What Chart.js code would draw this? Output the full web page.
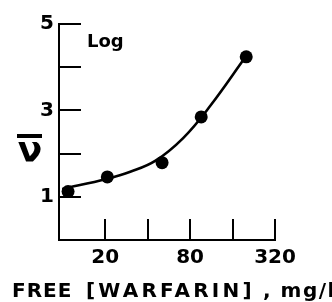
<!DOCTYPE html>
<html><head><meta charset="utf-8">
<script src="https://cdn.jsdelivr.net/npm/chart.js@4"></script>
<style>html,body{margin:0;padding:0;background:#fff}#wrap{width:332px;height:302px}</style>
</head><body><div id="wrap"><canvas id="c" width="332" height="302"></canvas></div>
<script>
// Data
const pointX = [10.9, 20.7, 50.6, 95.9, 200];
const pointY = [1.12, 1.46, 1.79, 2.85, 4.24];
const curveX = [9.9, 20.7, 30.1, 45.2, 71.4, 110.9, 198];
const curveY = [1.18, 1.42, 1.58, 1.83, 2.36, 3.10, 4.24];
const xTicks = [20, 40, 80, 160, 320];
const xLabels = [20, 80, 320];
const yTicks = [1, 2, 3, 4, 5];
const yLabels = [1, 3, 5];
const xTitleParts = ['FREE', '[WARFARIN]', ', mg/l'];
const yTitle = 'ν';
const noteText = 'Log';

const FONT = "'DejaVu Sans', sans-serif";

const inwardTicks = {
  id: 'inwardTicks',
  beforeDatasetsDraw(chart) {
    const ctx = chart.ctx, xs = chart.scales.x, ys = chart.scales.y;
    const a = chart.chartArea;
    ctx.save();
    ctx.strokeStyle = '#000';
    ctx.lineWidth = 2;
    ctx.beginPath();
    yTicks.forEach(v => {
      const p = Math.round(ys.getPixelForValue(v));
      ctx.moveTo(a.left, p); ctx.lineTo(a.left + 22, p);
    });
    xTicks.forEach(v => {
      const p = Math.round(xs.getPixelForValue(v));
      ctx.moveTo(p, a.bottom); ctx.lineTo(p, a.bottom - 21);
    });
    ctx.stroke();
    ctx.restore();
  },
  afterDraw(chart) {
    const ctx = chart.ctx;
    ctx.save();
    ctx.fillStyle = '#000';
    ctx.textBaseline = 'alphabetic';
    ctx.textAlign = 'left';
    ctx.font = "bold 18px " + FONT;
    ctx.fillText(noteText, 87, 47);
    ctx.font = "bold 20px " + FONT;
    const starts = [12, 86, 263];
    const spacing = ['1px', '3.2px', '1.5px'];
    xTitleParts.forEach((t, i) => {
      ctx.letterSpacing = spacing[i];
      ctx.fillText(t, starts[i], 297);
    });
    ctx.letterSpacing = '0px';
    ctx.font = "bold 36px " + FONT;
    ctx.textAlign = 'center';
    ctx.fillText(yTitle, 30, 162);
    ctx.fillRect(17, 134, 25, 4);
    ctx.restore();
  }
};

new Chart(document.getElementById('c'), {
  type: 'scatter',
  data: {
    datasets: [
      {
        type: 'line',
        data: curveX.map((x, i) => ({x, y: curveY[i]})),
        borderColor: '#000', borderWidth: 2.6, pointRadius: 0,
        tension: 0.4, fill: false
      },
      {
        data: pointX.map((x, i) => ({x, y: pointY[i]})),
        backgroundColor: '#000', borderColor: '#000', pointRadius: 6.5, borderWidth: 0
      }
    ]
  },
  plugins: [inwardTicks],
  options: {
    responsive: false, animation: false,
    layout: {padding: {top: 24, right: 57, left: 0, bottom: 0}},
    plugins: {legend: {display: false}, tooltip: {enabled: false}},
    scales: {
      x: {
        type: 'logarithmic', min: 9.4, max: 320,
        afterBuildTicks(s) { s.ticks = xTicks.map(v => ({value: v})); },
        afterFit(s) { s.height = 62; },
        grid: {display: false, drawTicks: false},
        border: {display: true, color: '#000', width: 2},
        ticks: {
          autoSkip: false, maxRotation: 0, color: '#000', padding: 6,
          font: {family: FONT, weight: 'bold', size: 20},
          callback: v => xLabels.includes(v) ? String(v) : ''
        }
      },
      y: {
        min: 0, max: 5,
        afterBuildTicks(s) { s.ticks = yTicks.map(v => ({value: v})); },
        afterFit(s) { s.width = 59; },
        grid: {display: false, drawTicks: false},
        border: {display: true, color: '#000', width: 2},
        ticks: {
          color: '#000', padding: 5,
          font: {family: FONT, weight: 'bold', size: 20},
          callback: v => yLabels.includes(v) ? String(v) : ''
        }
      }
    }
  }
});
</script></body></html>
